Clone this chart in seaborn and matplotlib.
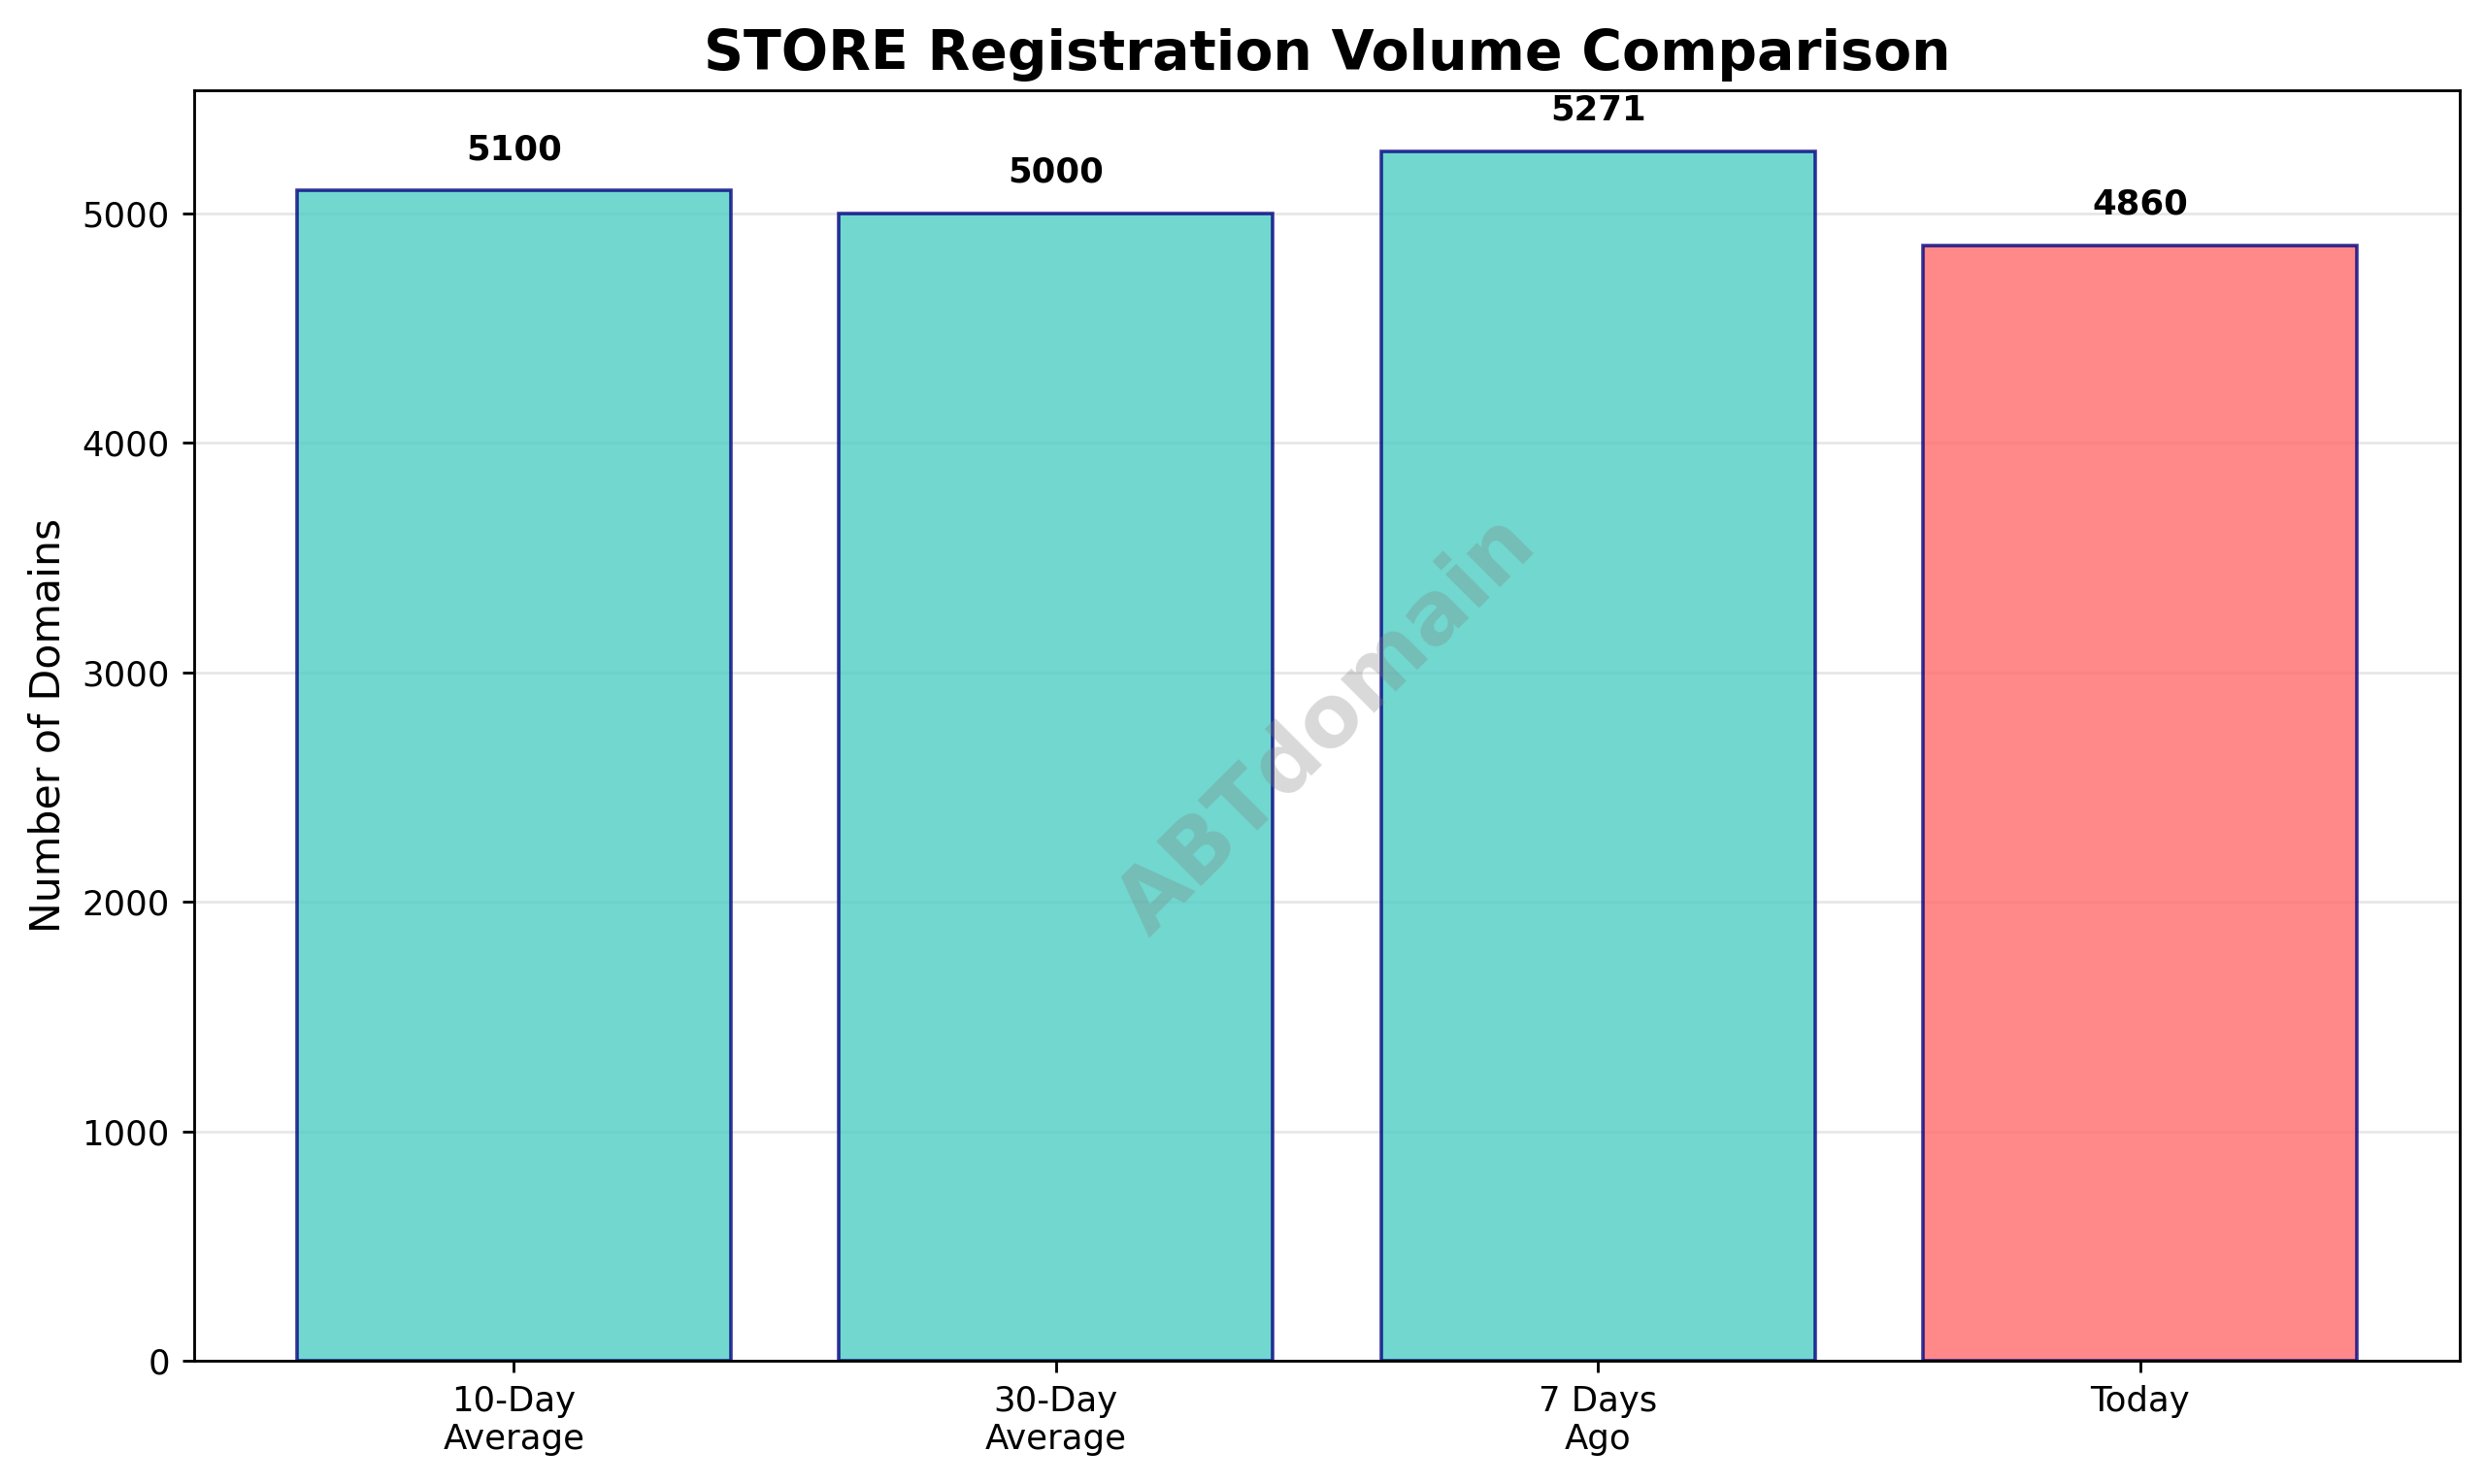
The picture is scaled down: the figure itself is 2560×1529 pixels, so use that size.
import matplotlib
matplotlib.use("Agg")
import matplotlib.pyplot as plt
import seaborn as sns
import pandas as pd

categories = ["10-Day\nAverage", "30-Day\nAverage", "7 Days\nAgo", "Today"]
values = [5100, 5000, 5271, 4860]
bar_colors = ["#4ECDC4", "#4ECDC4", "#4ECDC4", "#FF6B6B"]

df = pd.DataFrame({"period": categories, "count": values})

fig, ax = plt.subplots(figsize=(10, 5.973), dpi=256)
fig.subplots_adjust(left=0.078, right=0.99, top=0.939, bottom=0.083)

sns.barplot(data=df, x="period", y="count", hue="period", palette=bar_colors,
            alpha=0.8, edgecolor="navy", linewidth=1.0, width=0.8,
            legend=False, ax=ax, saturation=1)

ymax = max(values)
for i, v in enumerate(values):
    ax.text(i, v + ymax * 0.02, f"{v}", ha="center", va="bottom",
            fontsize=10, fontweight="bold")

ax.set_ylim(0, ymax * 1.05)
ax.set_xlim(-0.59, 3.59)
ax.set_title("STORE Registration Volume Comparison", fontsize=16, fontweight="bold")
ax.set_ylabel("Number of Domains", fontsize=12)
ax.set_xlabel("")
ax.tick_params(labelsize=10)
ax.yaxis.grid(True, alpha=0.3)
ax.set_axisbelow(True)

ax.text(0.5, 0.5, "ABTdomain", transform=ax.transAxes, fontsize=25,
        fontweight="bold", color="gray", alpha=0.3, rotation=45,
        ha="center", va="center")

fig.savefig("out.png", dpi=256)
